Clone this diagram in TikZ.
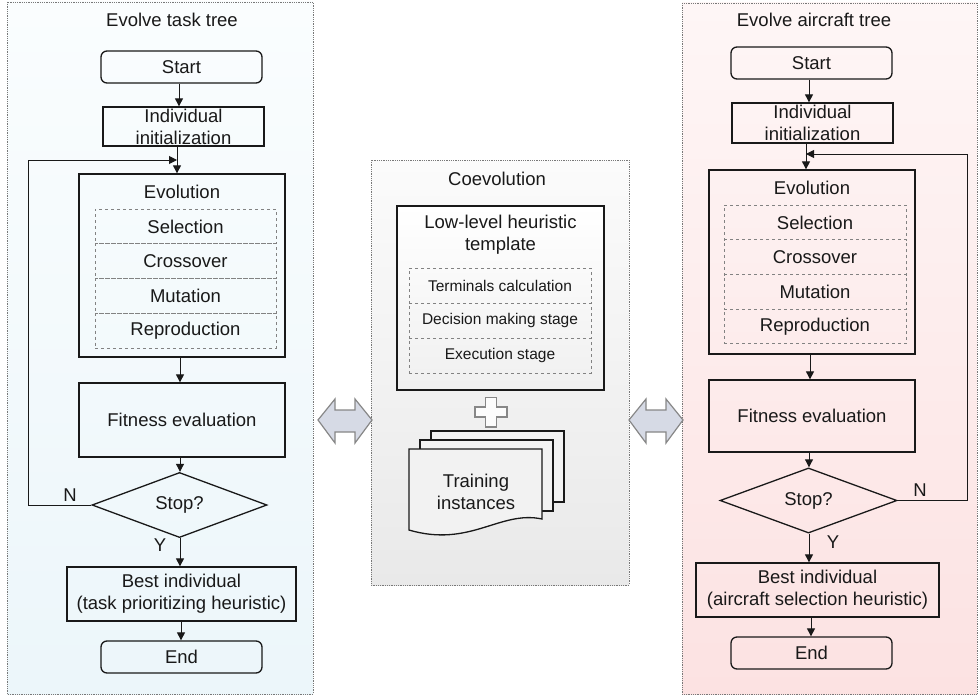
\documentclass[tikz,border=0pt]{standalone}
\usepackage{fontspec}
\setmainfont{Liberation Sans}
\usetikzlibrary{arrows.meta,shapes.geometric}

\definecolor{lefttop}{RGB}{250,253,254}
\definecolor{leftbot}{RGB}{236,246,250}
\definecolor{righttop}{RGB}{254,246,246}
\definecolor{rightbot}{RGB}{252,226,226}
\definecolor{midtop}{RGB}{251,251,251}
\definecolor{midbot}{RGB}{233,233,233}
\definecolor{dashgray}{RGB}{130,130,130}
\definecolor{framegray}{RGB}{120,120,120}
\definecolor{coarrow}{RGB}{214,218,229}
\definecolor{coedge}{RGB}{135,135,135}
\definecolor{ink}{RGB}{25,25,25}

\tikzset{
  mainfont/.style={font=\fontsize{18.5}{22}\selectfont},
  smallfont/.style={font=\fontsize{15.5}{18}\selectfont},
  panel/.style={draw=framegray, line width=0.8pt, densely dotted},
  procbox/.style={draw=ink, line width=1.3pt, rectangle, inner sep=0pt, align=center, mainfont, text=ink},
  termbox/.style={procbox, rounded corners=6pt},
  rowbox/.style={draw=dashgray, line width=1pt, dashed, rectangle, inner sep=0pt, text=ink},
  decision/.style={draw=ink, line width=1.3pt, diamond, inner sep=0pt, mainfont, text=ink},
  flow/.style={draw=ink, line width=1pt, -{Triangle[length=8pt,width=8pt]}},
  plainline/.style={draw=ink, line width=1pt},
  caption/.style={mainfont, text=ink, inner sep=0pt},
  coshape/.style={fill=coarrow, draw=coedge, line width=1.2pt, line join=miter},
}

\begin{document}
\begin{tikzpicture}[x=1pt,y=-1pt]
\useasboundingbox (0,0) rectangle (979,698);

% ---------- panel backgrounds ----------
\shade[top color=lefttop, bottom color=leftbot] (7,2) rectangle (313,694);
\draw[panel] (7,2) rectangle (313,694);
\shade[top color=righttop, bottom color=rightbot] (682,3) rectangle (977,694);
\draw[panel] (682,3) rectangle (977,694);
\shade[top color=midtop, bottom color=midbot] (371,160) rectangle (629,585);
\draw[panel] (371,160) rectangle (629,585);

% ---------- left column: task tree ----------
\node[caption] (ltitle) at (172,20) {Evolve task tree};
\node[termbox, minimum width=161pt, minimum height=32pt] (lstart) at (181.5,67) {Start};
\node[procbox, minimum width=161pt, minimum height=39pt] (linit) at (183.5,126.5) {Individual\\initialization};
\node[procbox, minimum width=206pt, minimum height=183pt] (levo) at (182,265.5) {};
\node[caption] (levot) at (182,192) {Evolution};
\node[rowbox, mainfont, minimum width=181pt, minimum height=34.75pt] (lr1) at (185.5,226.5) {Selection};
\node[rowbox, mainfont, minimum width=181pt, minimum height=34.75pt] (lr2) at (185.5,261.25) {Crossover};
\node[rowbox, mainfont, minimum width=181pt, minimum height=34.75pt] (lr3) at (185.5,296) {Mutation};
\node[rowbox, mainfont, minimum width=181pt, minimum height=34.75pt] (lr4) at (185.5,330.75) {Reproduction};
\node[procbox, minimum width=206pt, minimum height=74pt] (lfit) at (182,420) {Fitness evaluation};
\node[decision, minimum width=175pt, minimum height=50pt] (lstop) at (179.5,505) {Stop?};
\node[procbox, minimum width=229pt, minimum height=54pt] (lbest) at (181.5,594) {Best individual\\(task prioritizing heuristic)};
\node[termbox, minimum width=161pt, minimum height=32pt] (lend) at (181.5,657) {End};
\node[caption] (lN) at (70,495) {N};
\node[caption] (lY) at (160,545) {Y};

\coordinate (lloop) at (177,160);
\draw[flow] (lstart.south -| 179,0) -- (linit.north -| 179,0);
\draw[flow] (lloop |- linit.south) -- (lloop |- levo.north);
\draw[flow] (levo.south -| 180,0) -- (lfit.north -| 180,0);
\draw[flow] (lfit.south -| 180,0) -- (lstop.north -| 180,0);
\draw[flow] (lstop.south -| 180,0) -- (lbest.north -| 180,0);
\draw[flow] (lbest.south -| 181,0) -- (lend.north -| 181,0);
\draw[flow] (lstop.west) -- (28,505) |- (lloop);

% ---------- right column: aircraft tree ----------
\node[caption] (rtitle) at (814,20) {Evolve aircraft tree};
\node[termbox, minimum width=161pt, minimum height=32pt] (rstart) at (811.5,63) {Start};
\node[procbox, minimum width=161pt, minimum height=40pt] (rinit) at (812.5,123) {Individual\\initialization};
\node[procbox, minimum width=206pt, minimum height=184pt] (revo) at (812,262) {};
\node[caption] (revot) at (812,188) {Evolution};
\node[rowbox, mainfont, minimum width=182pt, minimum height=34.75pt] (rr1) at (815,222.4) {Selection};
\node[rowbox, mainfont, minimum width=182pt, minimum height=34.75pt] (rr2) at (815,257.1) {Crossover};
\node[rowbox, mainfont, minimum width=182pt, minimum height=34.75pt] (rr3) at (815,291.9) {Mutation};
\node[rowbox, mainfont, minimum width=182pt, minimum height=34.75pt] (rr4) at (815,326.6) {Reproduction};
\node[procbox, minimum width=206pt, minimum height=72pt] (rfit) at (812,416) {Fitness evaluation};
\node[decision, minimum width=177pt, minimum height=51pt] (rstop) at (808.5,500.5) {Stop?};
\node[procbox, minimum width=243pt, minimum height=54pt] (rbest) at (817.5,590) {Best individual\\(aircraft selection heuristic)};
\node[termbox, minimum width=161pt, minimum height=32pt] (rend) at (811.5,653) {End};
\node[caption] (rN) at (920,490) {N};
\node[caption] (rY) at (833,542) {Y};

\coordinate (rloop) at (806,154);
\draw[flow] (rstart.south -| 809,0) -- (rinit.north -| 809,0);
\draw[flow] (rloop |- rinit.south) -- (rloop |- revo.north);
\draw[flow] (revo.south -| 810,0) -- (rfit.north -| 810,0);
\draw[flow] (rfit.south -| 809,0) -- (rstop.north -| 809,0);
\draw[flow] (rstop.south -| 809,0) -- (rbest.north -| 809,0);
\draw[flow] (rbest.south -| 811,0) -- (rend.north -| 811,0);
\draw[flow] (rstop.east) -- (967,500.5) |- (rloop);

% ---------- middle column: coevolution ----------
\node[caption] (mtitle) at (497,179) {Coevolution};
\shade[top color=white, bottom color=black!6] (397,206) rectangle (604,390);
\node[procbox, minimum width=207pt, minimum height=184pt] (mtpl) at (500.5,298) {};
\node[caption, align=center] (mtplt) at (500.5,234.5) {Low-level heuristic\\template};
\node[rowbox, smallfont, minimum width=182pt, minimum height=35pt] (mr1) at (500,285.5) {Terminals calculation};
\node[rowbox, smallfont, minimum width=182pt, minimum height=35pt] (mr2) at (500,320.5) {Decision making stage};
\node[rowbox, smallfont, minimum width=182pt, minimum height=35pt] (mr3) at (500,355.5) {Execution stage};

% plus sign
\draw[fill=white!60!black!3, draw=coedge, line width=1.2pt]
  (485.5,397.5) -- (496.5,397.5) -- (496.5,407) -- (507,407) -- (507,417)
  -- (496.5,417) -- (496.5,427) -- (485.5,427) -- (485.5,417) -- (475,417)
  -- (475,407) -- (485.5,407) -- cycle;

% stacked training documents
\draw[fill=black!5, draw=ink, line width=1.3pt] (431,431) rectangle (564,502);
\draw[fill=black!5, draw=ink, line width=1.3pt] (420,440) rectangle (553,511);
\draw[fill=black!5, draw=ink, line width=1.3pt]
  (409,449) -- (542,449) -- (542,519) .. controls (500,510) and (470,548) .. (409,530) -- cycle;
\node[caption, align=center] (mdocs) at (476,492) {Training\\instances};

% two-way exchange arrows between the panels
\draw[coshape] (318,420) -- (335,399) -- (335,410) -- (355,410) -- (355,399) -- (372,420)
  -- (355,443) -- (355,432) -- (335,432) -- (335,443) -- cycle;
\draw[coshape] (629,420) -- (646,399) -- (646,410) -- (666,410) -- (666,399) -- (683,420)
  -- (666,443) -- (666,432) -- (646,432) -- (646,443) -- cycle;
\end{tikzpicture}
\end{document}
